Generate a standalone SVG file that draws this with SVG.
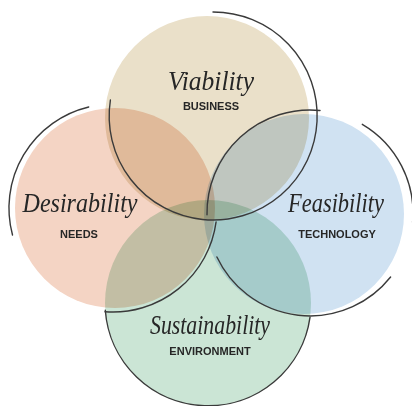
<svg xmlns="http://www.w3.org/2000/svg" width="412" height="406" viewBox="0 0 412 406">
  <style>
    .node { mix-blend-mode: multiply; }
    .script { font-family: "Liberation Serif", "DejaVu Serif", serif; font-style: italic; font-size: 28px; fill: #262626; text-anchor: middle; }
    .sub { font-family: "Liberation Sans", Arial, sans-serif; font-weight: bold; font-size: 11px; fill: #262626; text-anchor: middle; }
    .outline { fill: none; stroke: #3a3a3a; stroke-width: 1.4; stroke-linecap: round; }
  </style>
  <rect width="412" height="406" fill="#ffffff"/>
  <g id="viability" class="node">
    <circle cx="207" cy="118" r="102" fill="#eae0c9"/>
    <text class="script" x="211" y="90" textLength="86" lengthAdjust="spacingAndGlyphs">Viability</text>
    <text class="sub" x="211" y="110">BUSINESS</text>
  </g>
  <g id="desirability" class="node">
    <circle cx="115" cy="208" r="100" fill="#f4d4c4"/>
    <text class="script" x="80" y="212" textLength="115" lengthAdjust="spacingAndGlyphs">Desirability</text>
    <text class="sub" x="79" y="238">NEEDS</text>
  </g>
  <g id="feasibility" class="node">
    <circle cx="304" cy="214" r="100" fill="#d0e2f2"/>
    <text class="script" x="336" y="212" textLength="96" lengthAdjust="spacingAndGlyphs">Feasibility</text>
    <text class="sub" x="337" y="238">TECHNOLOGY</text>
  </g>
  <g id="sustainability" class="node">
    <circle cx="208" cy="303" r="103" fill="#cbe5d5"/>
    <text class="script" x="210" y="334" textLength="120" lengthAdjust="spacingAndGlyphs">Sustainability</text>
    <text class="sub" x="210" y="355">ENVIRONMENT</text>
  </g>
  <g id="connectors">
    <path class="outline" d="M213,12 A104,104 0 1 1 110.4,100"/>
    <path class="outline" d="M88.7,107 A104,104 0 0 0 12.5,235"/>
    <path class="outline" d="M105,311.7 A104,104 0 0 0 216.1,221.9"/>
    <path class="outline" d="M320,110.5 A103,103 0 0 0 207,214.8"/>
    <path class="outline" d="M216.9,257 A103,103 0 0 0 390.6,277"/>
    <path class="outline" d="M362.3,124.3 A103,103 0 0 1 412.6,222"/>
    <path class="outline" d="M310,317.3 A103,103 0 0 1 105.3,310.2"/>
  </g>
</svg>
